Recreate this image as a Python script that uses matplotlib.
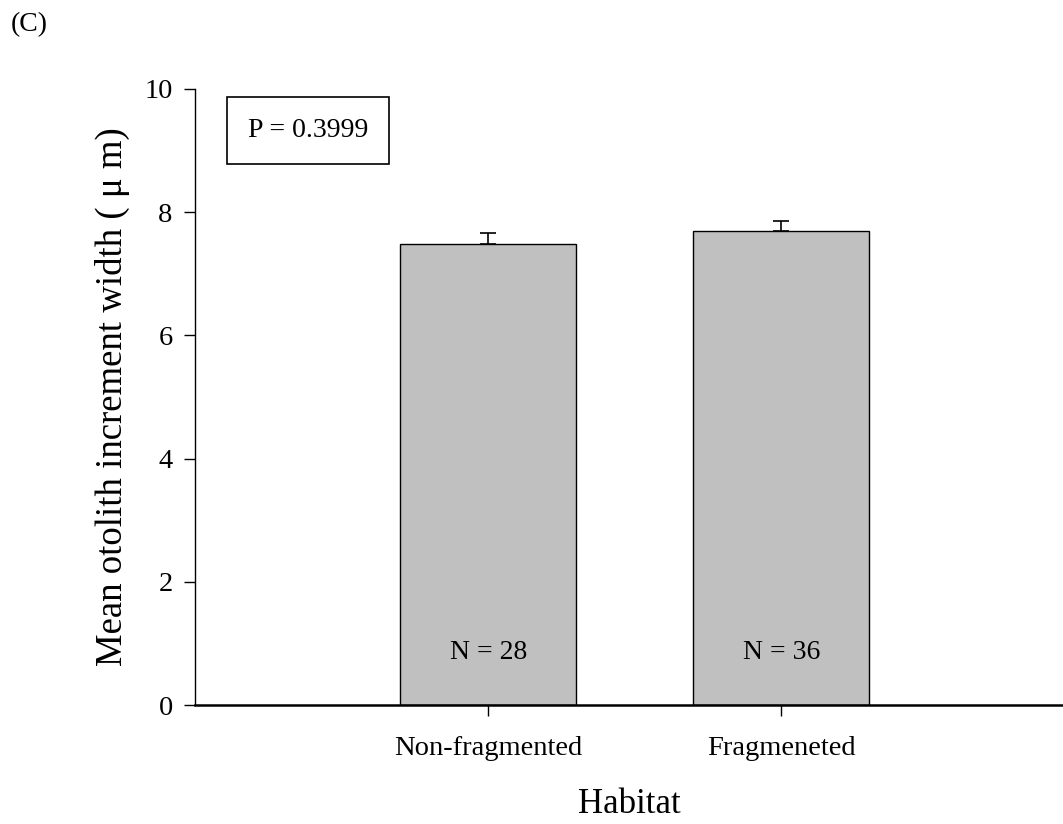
import numpy as np
import matplotlib.pyplot as plt

plt.rcParams['font.family'] = ['Liberation Serif', 'DejaVu Serif']

habitats = ['Non-fragmented', 'Fragmeneted']
mean_width = [7.48, 7.69]
se_width = [0.19, 0.16]
n_fish = [28, 36]
p_value = 0.3999

fig = plt.figure(figsize=(10.63, 8.24), dpi=100)
ax = fig.add_axes([0.1834, 0.1444, 0.8166, 0.7476])

x = np.arange(len(habitats))
ax.bar(x, mean_width, width=0.6, color='#c0c0c0', edgecolor='black', linewidth=1.0, zorder=2)
ax.errorbar(x, mean_width, yerr=[np.zeros(len(x)), se_width], fmt='none',
            ecolor='black', elinewidth=1.2, capsize=6, capthick=1.2, zorder=3)

for xi, n in zip(x, n_fish):
    ax.text(xi, 0.85, f'N = {n}', ha='center', va='center', fontsize=20)

ax.set_xlim(-1.0, 1.96)
ax.set_ylim(0, 10)
ax.set_xticks(x)
ax.set_xticklabels(habitats, fontsize=20.5)
ax.set_yticks(np.arange(0, 11, 2))
ax.tick_params(axis='y', labelsize=20.5, direction='out', length=8, width=1, pad=8)
ax.tick_params(axis='x', direction='out', length=8, width=1, pad=14)

for side in ['top', 'right']:
    ax.spines[side].set_visible(False)
ax.spines['left'].set_linewidth(1.0)
ax.spines['bottom'].set_linewidth(1.8)

ax.set_xlabel('Habitat', fontsize=25, labelpad=20)
ax.set_ylabel('Mean otolith increment width ( \u03bc m)', fontsize=26.5, labelpad=10)

ax.text(0.061, 0.953, f'P = {p_value}', transform=ax.transAxes, fontsize=20,
        ha='left', va='top',
        bbox=dict(boxstyle='square,pad=0.75', facecolor='white', edgecolor='black', linewidth=1.2))

fig.text(0.01, 0.985, '(C)', fontsize=20, ha='left', va='top')

plt.savefig('out.png', dpi=100)
